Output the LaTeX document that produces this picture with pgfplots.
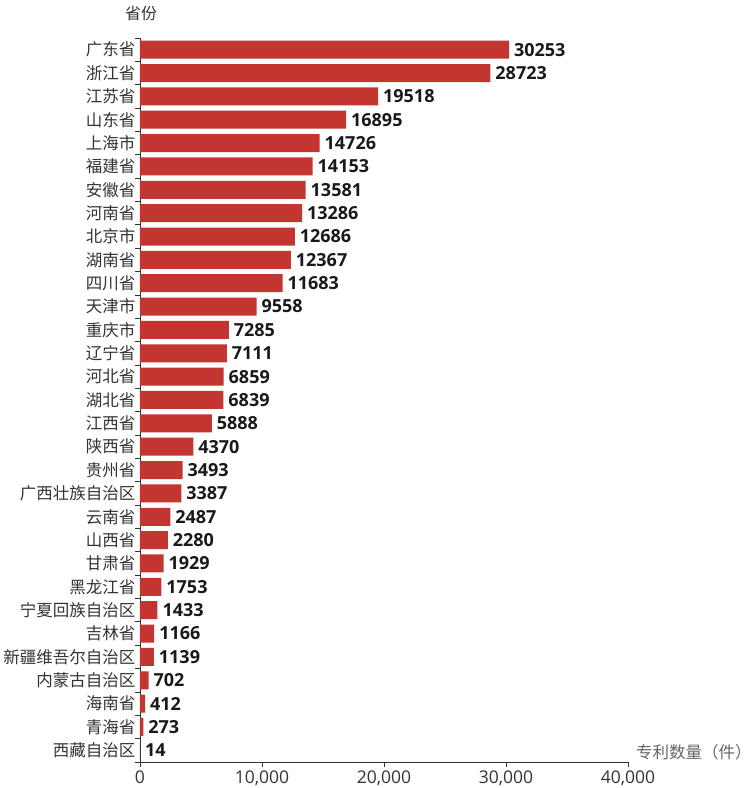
\documentclass[border=0pt]{standalone}
\usepackage{fontspec}
\setmainfont{Noto Sans CJK SC}
\newfontfamily\numfont{Open Sans}
\usepackage{pgfplots}
\pgfplotsset{compat=1.18}
\definecolor{barred}{HTML}{C23531}
\definecolor{txt}{HTML}{333333}
\definecolor{axname}{HTML}{666666}
\begin{document}
\begin{tikzpicture}[x=1pt,y=1pt]
\begin{axis}[
  at={(140pt,26pt)}, anchor=south west,
  scale only axis, width=488pt, height=724pt,
  xbar, bar width=18pt,
  xmin=0, xmax=40000, ymin=-0.5, ymax=30.5,
  axis lines*=left,
  axis line style={draw=txt, line width=0.8pt},
  tick align=outside,
  major tick length=5pt,
  tick style={draw=txt, line width=0.8pt},
  /pgf/number format/assume math mode=true,
  xtick={0,10000,20000,30000,40000},
  scaled x ticks=false,
  xticklabel style={font=\numfont\fontsize{17.5}{20}\selectfont, text=txt, /pgf/number format/.cd, fixed, 1000 sep={,}},
  ytick={-0.5,0.5,...,30.5},
  yticklabel={\hbox{}},
  extra y ticks={0,...,30},
  extra y tick labels={西藏自治区,青海省,海南省,内蒙古自治区,新疆维吾尔自治区,吉林省,宁夏回族自治区,黑龙江省,甘肃省,山西省,云南省,广西壮族自治区,贵州省,陕西省,江西省,湖北省,河北省,辽宁省,重庆市,天津市,四川省,湖南省,北京市,河南省,安徽省,福建省,上海市,山东省,江苏省,浙江省,广东省},
  extra y tick style={grid=none, major tick length=0pt, tick style={draw=none},
     yticklabel style={font=\fontsize{16.5}{20}\selectfont, text=txt, xshift=-1pt}},
  clip=false,
  nodes near coords={\pgfmathprintnumber[fixed,precision=0,1000 sep={}]{\pgfplotspointmeta}},
  every node near coord/.append style={font=\numfont\bfseries\fontsize{18}{20}\selectfont, text=black!90, anchor=west, xshift=1.5pt},
]
\addplot[fill=barred, draw=none] coordinates {
(14,0) (273,1) (412,2) (702,3) (1139,4) (1166,5) (1433,6) (1753,7) (1929,8) (2280,9)
(2487,10) (3387,11) (3493,12) (4370,13) (5888,14) (6839,15) (6859,16) (7111,17) (7285,18) (9558,19)
(11683,20) (12367,21) (12686,22) (13286,23) (13581,24) (14153,25) (14726,26) (16895,27) (19518,28) (28723,29)
(30253,30)};
\end{axis}
\node[font=\fontsize{16}{18}\selectfont, text=txt] at (141,775) {省份};
\node[font=\fontsize{16.5}{18}\selectfont, text=axname, anchor=west, inner sep=0pt] at (636,36) {专利数量（件）};
\pgfresetboundingbox
\path (0,0) rectangle (752,788);
\end{tikzpicture}
\end{document}
